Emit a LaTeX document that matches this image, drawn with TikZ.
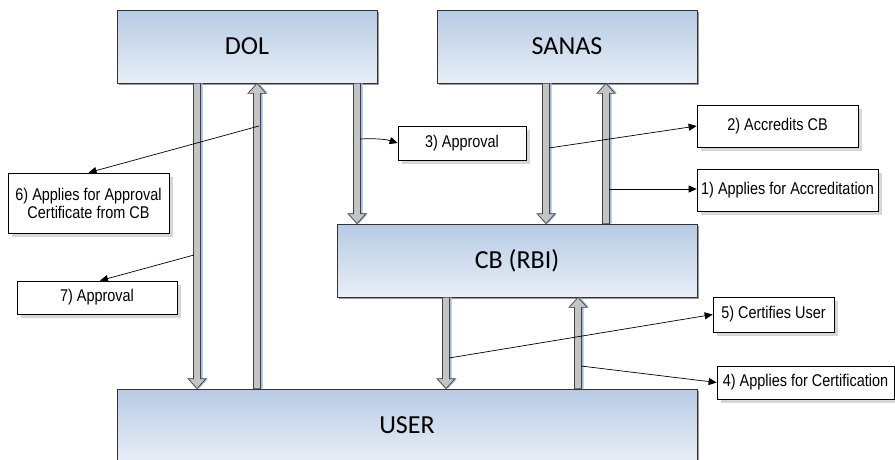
\documentclass[tikz,border=0pt]{standalone}
\usepackage{fontspec}
\setmainfont{Carlito}
\newfontfamily\narrowfont[FakeStretch=0.85]{Liberation Sans}
\usetikzlibrary{arrows.meta,shadows,calc}
\definecolor{boxtop}{HTML}{B7CBE4}
\definecolor{boxbot}{HTML}{E8EEF7}
\definecolor{shaftfill}{HTML}{C4C4C4}
\definecolor{shaftshadow}{HTML}{9DBCE6}
\tikzset{
 mainbox/.style={draw=black!80, line width=0.7pt, top color=boxtop, bottom color=boxbot,
   minimum width=260pt, minimum height=73pt, inner sep=0pt,
   font=\fontsize{26}{30}\selectfont,
   drop shadow={shadow xshift=1.5pt, shadow yshift=-1.5pt, fill=black!40, opacity=1}},
 labelbox/.style={draw=black, line width=0.7pt, fill=white, inner sep=0pt, align=center,
   font=\narrowfont\fontsize{17}{18}\selectfont,
   drop shadow={shadow xshift=4pt, shadow yshift=-4pt, fill=black!16, opacity=1}},
 link/.style={draw=black, line width=0.7pt, -{Triangle[length=8pt,width=7pt]}},
}
\newcommand\fatarrow[2]{%
 \fill[shaftshadow, xshift=2pt, yshift=-1pt] let \p1=(#1), \p2=(#2), \n1={sign(\y2-\y1)} in
  ({\x1-3.5pt},\y1) -- ({\x1-3.5pt},{\y2-\n1*10pt}) -- ({\x1-9pt},{\y2-\n1*10pt}) -- (\x1,\y2)
  -- ({\x1+9pt},{\y2-\n1*10pt}) -- ({\x1+3.5pt},{\y2-\n1*10pt}) -- ({\x1+3.5pt},\y1) -- cycle;
 \filldraw[fill=shaftfill, draw=black!75, line width=0.7pt] let \p1=(#1), \p2=(#2), \n1={sign(\y2-\y1)} in
  ({\x1-3.5pt},\y1) -- ({\x1-3.5pt},{\y2-\n1*10pt}) -- ({\x1-9pt},{\y2-\n1*10pt}) -- (\x1,\y2)
  -- ({\x1+9pt},{\y2-\n1*10pt}) -- ({\x1+3.5pt},{\y2-\n1*10pt}) -- ({\x1+3.5pt},\y1) -- cycle;
}
\begin{document}
\begin{tikzpicture}[x=1pt,y=-1pt]
\useasboundingbox (0,0) rectangle (895,459);
% main boxes
\node[mainbox] (DOL) at (247,46.5) {DOL};
\node[mainbox] (SANAS) at (567,46.5) {SANAS};
\node[mainbox, minimum width=360pt] (CB) at (517,260.5) {CB (RBI)};
\node[mainbox, minimum width=580pt, minimum height=72pt] (USER) at (407,425) {USER};
% fat arrows
\fatarrow{197,0 |- DOL.south}{197,0 |- USER.north}
\fatarrow{257,0 |- USER.north}{257,0 |- DOL.south}
\fatarrow{357,0 |- DOL.south}{357,0 |- CB.north}
\fatarrow{546,0 |- SANAS.south}{546,0 |- CB.north}
\fatarrow{606,0 |- CB.north}{606,0 |- SANAS.south}
\fatarrow{446,0 |- CB.south}{446,0 |- USER.north}
\fatarrow{578,0 |- USER.north}{578,0 |- CB.south}
% label boxes
\node[labelbox, minimum width=128pt, minimum height=34pt] (L3) at (462,143) {3) Approval};
\node[labelbox, minimum width=161pt, minimum height=42pt] (L2) at (777.5,126) {2) Accredits CB};
\node[labelbox, minimum width=181pt, minimum height=42pt] (L1) at (787.5,190) {1) Applies for Accreditation};
\node[labelbox, minimum width=161pt, minimum height=60pt] (L6) at (88.5,203) {6) Applies for Approval\\Certificate from CB};
\node[labelbox, minimum width=160pt, minimum height=33pt] (L7) at (97,297.5) {7) Approval};
\node[labelbox, minimum width=121pt, minimum height=35pt] (L5) at (773.5,314.5) {5) Certifies User};
\node[labelbox, minimum width=177pt, minimum height=33pt] (L4) at (805.5,382.5) {4) Applies for Certification};
% link start points
\coordinate (s3) at (360,139);
\coordinate (s2) at (549,148);
\coordinate (s1) at (609,189);
\coordinate (s6) at (259,126);
\coordinate (s7) at (194,255);
\coordinate (s5) at (449,358);
\coordinate (s4) at (581,366);
% links
\draw[link] (s3) .. controls (380,138) and (388,140) .. (L3.west);
\draw[link] (s2) -- (L2.west);
\draw[link] (s1) -- (s1 -| L1.west);
\draw[link] (s6) -- (L6.north);
\draw[link] (s7) -- ([xshift=3pt]L7.north);
\draw[link] (s5) -- (L5.west);
\draw[link] (s4) -- (L4.west);
\end{tikzpicture}
\end{document}
